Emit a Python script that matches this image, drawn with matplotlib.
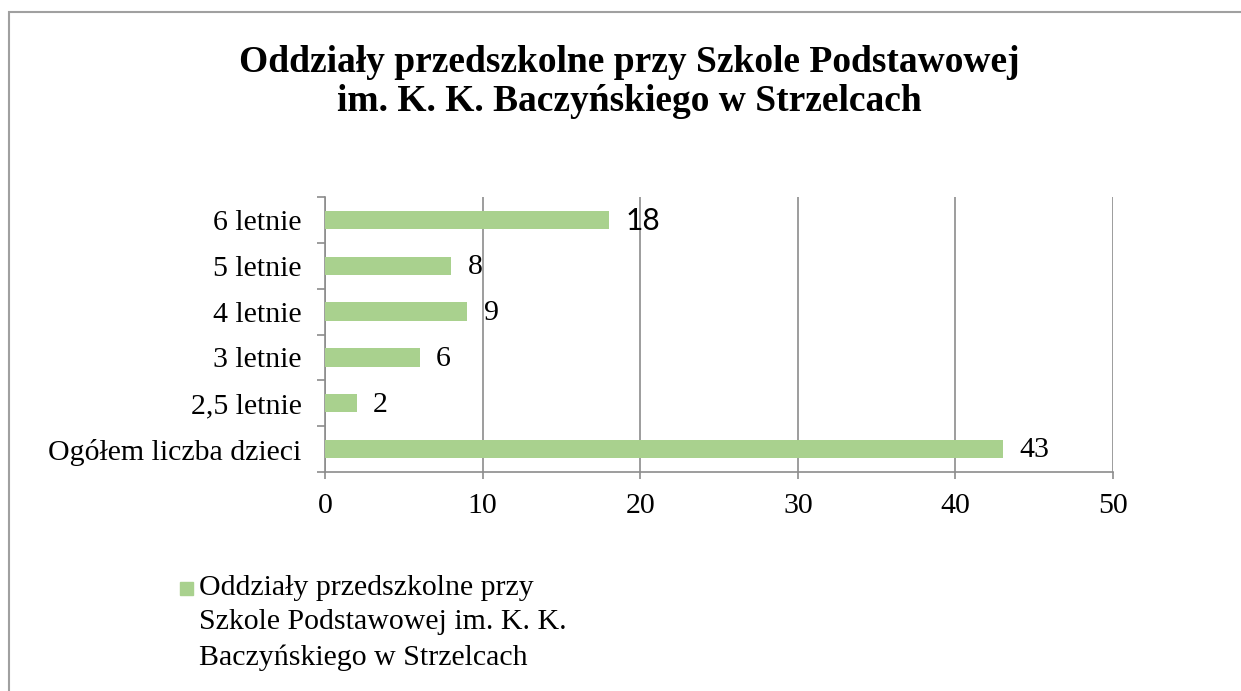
"""Oddziały przedszkolne - horizontal bar chart."""

import matplotlib
matplotlib.use("Agg")
import matplotlib.pyplot as plt
from matplotlib.patches import Rectangle
from matplotlib.ticker import FixedLocator

# ---------------------------------------------------------------------------
# Data (top to bottom as shown in the chart)
# ---------------------------------------------------------------------------
categories = ["6 letnie", "5 letnie", "4 letnie", "3 letnie", "2,5 letnie",
              "Ogółem liczba dzieci"]
values = [18, 8, 9, 6, 2, 43]
x_ticks = [0, 10, 20, 30, 40, 50]

title = ("Oddziały przedszkolne przy Szkole Podstawowej\n"
         "im. K. K. Baczyńskiego w Strzelcach")
legend_label = ("Oddziały przedszkolne przy\n"
                "Szkole Podstawowej im. K. K.\n"
                "Baczyńskiego w Strzelcach")

BAR_COLOR = "#A9D18E"
GRID_COLOR = "#8C8C8C"
SERIF = "Liberation Serif"
FS = 21.5

fig = plt.figure(figsize=(12.41, 6.91), dpi=100)
ax = fig.add_axes([0.2619, 0.3169, 0.635, 0.398])

# bars drawn bottom-up so the first category ends on top
cats = categories[::-1]
vals = values[::-1]
pos = list(range(len(cats)))
bars = ax.barh(pos, vals, height=0.4, color=BAR_COLOR, zorder=3)

# value labels
for bar, v in zip(bars, vals):
    fam = "Lato" if v == 18 else SERIF
    ax.annotate(f"{v}", (bar.get_width(), bar.get_y() + bar.get_height() / 2),
                xytext=(12, -1), textcoords="offset points",
                ha="left", va="center", fontsize=FS, family=fam)

ax.set_xlim(0, 50)
ax.set_ylim(-0.5, len(cats) - 0.5)
ax.set_xticks(x_ticks)
ax.set_xticklabels([str(t) for t in x_ticks], fontsize=FS, family=SERIF)
ax.set_yticks(pos)
ax.set_yticklabels(cats, fontsize=FS, family=SERIF)
ax.yaxis.set_minor_locator(FixedLocator([p - 0.5 for p in pos] + [len(cats) - 0.5]))

ax.tick_params(axis="y", which="major", length=0, pad=17)
ax.tick_params(axis="y", which="minor", length=6, width=1.2, color=GRID_COLOR)
ax.tick_params(axis="x", which="major", length=5, width=1.2, color=GRID_COLOR, pad=10)

ax.xaxis.grid(True, color=GRID_COLOR, linewidth=1.2, zorder=0)
ax.set_axisbelow(True)
for side in ("top", "right"):
    ax.spines[side].set_visible(False)
for side in ("left", "bottom"):
    ax.spines[side].set_color(GRID_COLOR)
    ax.spines[side].set_linewidth(1.2)

# title
fig.text(0.507, 0.882, title, ha="center", va="center", fontsize=27,
         fontweight="bold", family=SERIF, linespacing=1.15)

# legend (manual: square marker + three-line label)
fig.patches.append(Rectangle((180 / 1241, 1 - 595 / 691), 13 / 1241, 13 / 691,
                             transform=fig.transFigure, color=BAR_COLOR))
fig.text(199 / 1241, 1 - 575 / 691, legend_label, ha="left", va="top",
         fontsize=FS, family=SERIF, linespacing=1.42)

# chart frame (left and top edges visible)
fig.patches.append(Rectangle((9 / 1241, -0.05), 1.1, 1 - 12 / 691 + 0.05,
                             transform=fig.transFigure, fill=False,
                             edgecolor="#A0A0A0", linewidth=1.5))

fig.savefig("out.png", dpi=100)
plt.close(fig)
